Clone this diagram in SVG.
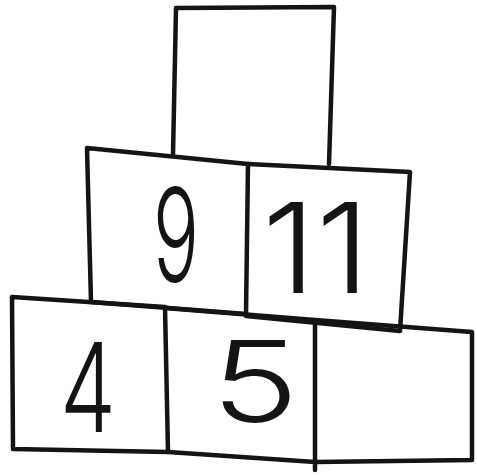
<svg xmlns="http://www.w3.org/2000/svg" width="477" height="475" viewBox="0 0 477 475">
<style>
.box{fill:none;stroke:#141414;stroke-width:4.5;stroke-linejoin:round;stroke-linecap:round}
.num{font-family:Inter,"Liberation Sans",sans-serif;font-weight:300;fill:#141414}
</style>
<rect width="477" height="475" fill="#fff"/>
<g id="top"><path class="box" d="M176,8 L334,7 L329,164 M176,8 L173,155"/></g>
<g id="mid-left"><path class="box" d="M87,148 L248,164 L246,314 L91,302 Z"/>
<text class="num" x="153" y="282" font-size="130" textLength="46" lengthAdjust="spacingAndGlyphs">9</text></g>
<g id="mid-right"><path class="box" d="M248,164 L410,172 L400,331 L246,316"/>
<text class="num" x="262" y="293" font-size="125" textLength="108" lengthAdjust="spacingAndGlyphs">11</text></g>
<g id="bot-left"><path class="box" d="M12,297 L165,307 L168,452 L13,449 Z"/>
<text class="num" x="60" y="432" font-size="124" textLength="56" lengthAdjust="spacingAndGlyphs">4</text></g>
<g id="bot-mid"><path class="box" d="M165,308 L315,320 L315,470 M168,452 L315,462"/>
<text class="num" x="211" y="422" font-size="113" textLength="88" lengthAdjust="spacingAndGlyphs">5</text></g>
<g id="bot-right"><path class="box" d="M315,320 L472,332 L472,460 L315,462"/></g>
<g id="connectors"/>
</svg>
